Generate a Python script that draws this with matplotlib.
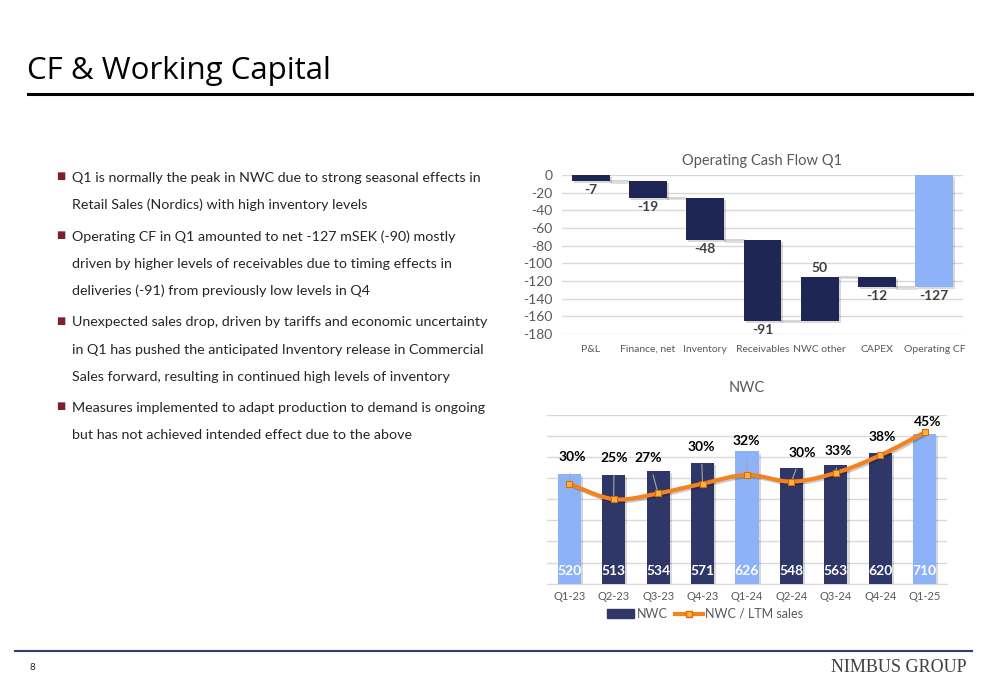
import matplotlib
matplotlib.use("Agg")
import matplotlib.pyplot as plt
import matplotlib.patheffects as pe
from matplotlib.lines import Line2D
from matplotlib.patches import Patch
import numpy as np

plt.rcParams['font.family'] = ['Lato', 'DejaVu Sans']
plt.rcParams['axes.unicode_minus'] = False

# ---- data ----
title = "CF & Working Capital"
bullets = [
    ["Q1 is normally the peak in NWC due to strong seasonal effects in",
     "Retail Sales (Nordics) with high inventory levels"],
    ["Operating CF in Q1 amounted to net -127 mSEK (-90) mostly",
     "driven by higher levels of receivables due to timing effects in",
     "deliveries (-91) from previously low levels in Q4"],
    ["Unexpected sales drop, driven by tariffs and economic uncertainty",
     "in Q1 has pushed the anticipated Inventory release in Commercial",
     "Sales forward, resulting in continued high levels of inventory"],
    ["Measures implemented to adapt production to demand is ongoing",
     "but has not achieved intended effect due to the above"],
]

cf_labels = ["P&L", "Finance, net", "Inventory", "Receivables", "NWC other", "CAPEX", "Operating CF"]
cf_steps = [-7, -19, -48, -91, 50, -12]
cf_total = -127

quarters = ["Q1-23", "Q2-23", "Q3-23", "Q4-23", "Q1-24", "Q2-24", "Q3-24", "Q4-24", "Q1-25"]
nwc = [520, 513, 534, 571, 626, 548, 563, 620, 710]
nwc_ratio = [29.6, 25.0, 26.7, 29.6, 32.2, 30.2, 32.8, 38.0, 44.8]
is_q1 = [True, False, False, False, True, False, False, False, True]

# label placement for the % labels (x in category units, y in %)
pct_lab_x = [0.06, 1.01, 1.78, 2.97, 3.99, 5.24, 6.06, 7.04, 8.07]
pct_lab_y = [37.6, 37.1, 37.2, 40.4, 42.1, 38.7, 39.3, 43.4, 47.9]

NAVY = "#1E2655"
NAVY2 = "#2F3768"
LIGHT = "#8EB2F7"
ORANGE = "#F4821F"
GRAY = "#595959"
GRID = "#D9D9D9"

shadow = [pe.SimplePatchShadow(offset=(1.5, -1.5), shadow_rgbFace="#000000", alpha=0.15), pe.Normal()]


def smooth(xs, ys, n=30):
    # bezier through points, like office "smoothed line"
    xs = np.asarray(xs, float)
    ys = np.asarray(ys, float)
    px, py = [], []
    for i in range(len(xs) - 1):
        i0 = max(i - 1, 0)
        i3 = min(i + 2, len(xs) - 1)
        c1x = xs[i] + (xs[i + 1] - xs[i0]) / 6
        c1y = ys[i] + (ys[i + 1] - ys[i0]) / 6
        c2x = xs[i + 1] - (xs[i3] - xs[i]) / 6
        c2y = ys[i + 1] - (ys[i3] - ys[i]) / 6
        t = np.linspace(0, 1, n)
        px.extend((1 - t) ** 3 * xs[i] + 3 * (1 - t) ** 2 * t * c1x + 3 * (1 - t) * t ** 2 * c2x + t ** 3 * xs[i + 1])
        py.extend((1 - t) ** 3 * ys[i] + 3 * (1 - t) ** 2 * t * c1y + 3 * (1 - t) * t ** 2 * c2y + t ** 3 * ys[i + 1])
    return px, py


fig = plt.figure(figsize=(10, 6.85), dpi=100)

# ---- slide frame ----
fig.text(0.027, 1 - 71 / 685, title, fontsize=22.5, color="black", va="center", ha="left",
         family=["Open Sans", "DejaVu Sans"])
fig.add_artist(Line2D([0.028, 0.972], [1 - 94 / 685] * 2, color="black", lw=2.2))
fig.add_artist(Line2D([0.015, 0.972], [1 - 651 / 685] * 2, color="#2F3E6E", lw=1.5))
fig.text(0.030, 1 - 668 / 685, "8", fontsize=7, color="#262626", va="center")
fig.text(0.967, 1 - 668 / 685, "NIMBUS GROUP", fontsize=13, color="#404040", va="center", ha="right",
         family=["Liberation Serif", "DejaVu Serif"])

y = 178
for b in bullets:
    fig.text(0.0565, 1 - (y - 2) / 685, "\u25A0", fontsize=7, color="#7F1F2E", va="center", ha="left",
             family=["DejaVu Sans"])
    for line in b:
        fig.text(0.072, 1 - y / 685, line, fontsize=10.3, color="#262626", va="center", ha="left")
        y += 27.1
    y += 4.5

# ---- waterfall ----
ax1 = fig.add_axes([0.562, 1 - 334 / 685, 0.401, (334 - 175) / 685])
x = np.arange(len(cf_labels))
w = 0.66
level = 0
tops, bottoms = [], []
for v in cf_steps:
    tops.append(max(level, level + v))
    bottoms.append(min(level, level + v))
    level += v
ends = np.cumsum(cf_steps)
for i, v in enumerate(cf_steps):
    ax1.bar(x[i], tops[i] - bottoms[i], bottom=bottoms[i], width=w, color=NAVY, zorder=3,
            path_effects=shadow)
ax1.bar(x[-1], cf_total, width=w, color=LIGHT, zorder=3, path_effects=shadow)
for i in range(len(cf_steps)):
    ax1.plot([x[i] + w / 2, x[i + 1] - w / 2], [ends[i], ends[i]], color="#D0D0D0", lw=1.2, zorder=2,
             path_effects=[pe.SimpleLineShadow(offset=(1, -1), alpha=0.15), pe.Normal()])
for i, v in enumerate(cf_steps):
    if v < 0:
        ax1.annotate(str(v), (x[i], bottoms[i]), xytext=(0, -2), textcoords="offset points",
                     ha="center", va="top", fontsize=10, fontweight="bold", color="#404040")
    else:
        ax1.annotate(str(v), (x[i], tops[i]), xytext=(0, 2), textcoords="offset points",
                     ha="center", va="bottom", fontsize=10, fontweight="bold", color="#404040")
ax1.annotate(str(cf_total), (x[-1], cf_total), xytext=(0, -2), textcoords="offset points",
             ha="center", va="top", fontsize=10, fontweight="bold", color="#404040")
ax1.set_ylim(-180, 0)
ax1.set_xlim(-0.5, len(cf_labels) - 0.5)
ax1.set_yticks(range(-180, 1, 20))
ax1.yaxis.grid(True, color=GRID, lw=1)
ax1.set_axisbelow(True)
ax1.set_xticks(x)
ax1.set_xticklabels(cf_labels, fontsize=7.5, color=GRAY)
ax1.tick_params(axis="y", labelsize=10, labelcolor=GRAY, length=0, pad=7)
ax1.tick_params(axis="x", length=0, pad=8)
for s in ax1.spines.values():
    s.set_visible(False)
ax1.set_title("Operating Cash Flow Q1", fontsize=10.5, color=GRAY, pad=7)

# ---- NWC ----
ax2 = fig.add_axes([0.547, 1 - 583.7 / 685, 0.400, (583.7 - 414.7) / 685])
qx = np.arange(len(quarters))
cols = [LIGHT if q else NAVY2 for q in is_q1]
ax2.bar(qx, nwc, width=0.52, color=cols, zorder=3, path_effects=shadow)
for i, v in enumerate(nwc):
    ax2.text(qx[i], 60, str(v), ha="center", va="center", fontsize=10, fontweight="bold",
             color="white", zorder=5)
ax2.set_ylim(0, 800)
ax2.set_xlim(-0.5, len(quarters) - 0.5)
ax2.set_yticks(range(0, 801, 100))
ax2.yaxis.grid(True, color=GRID, lw=1)
ax2.set_axisbelow(True)
ax2.set_yticklabels([])
ax2.set_xticks(qx)
ax2.set_xticklabels(quarters, fontsize=8, color=GRAY)
ax2.tick_params(axis="y", length=0)
ax2.tick_params(axis="x", length=0, pad=5)
for s in ax2.spines.values():
    s.set_visible(False)
ax2.spines["bottom"].set_visible(True)
ax2.spines["bottom"].set_color(GRID)
ax2.set_title("NWC", fontsize=10.5, color=GRAY, pad=16)

ax3 = ax2.twinx()
ax3.set_ylim(0, 50)
ax3.set_yticks([])
for s in ax3.spines.values():
    s.set_visible(False)
sx, sy = smooth(qx, nwc_ratio)
ax3.plot(sx, sy, color=ORANGE, lw=3, zorder=4, solid_capstyle="round",
         path_effects=[pe.SimpleLineShadow(offset=(1.2, -1.2), alpha=0.2), pe.Normal()])
ax3.plot(qx, nwc_ratio, ls="none", marker="s", ms=5, mfc="#FFB347", mec="#D96C00", mew=0.8, zorder=5)
for i, v in enumerate(nwc_ratio):
    ax3.annotate(f"{round(v)}%", (qx[i], v), xytext=(pct_lab_x[i], pct_lab_y[i]), textcoords="data",
                 ha="center", va="center", fontsize=10, fontweight="bold", color="black",
                 arrowprops=dict(arrowstyle="-", color="#A6A6A6", lw=0.8, shrinkA=6, shrinkB=2),
                 annotation_clip=False)

handles = [Patch(facecolor=NAVY2, edgecolor=NAVY2),
           Line2D([0], [0], color=ORANGE, lw=3, marker="s", ms=5, mfc="#FFB347", mec="#D96C00")]
fig.legend(handles, ["NWC", "NWC / LTM sales"], loc="center", bbox_to_anchor=(0.705, 1 - 614 / 685),
           ncol=2, frameon=False, fontsize=9, labelcolor=GRAY, handlelength=2.2, columnspacing=0.6,
           handletextpad=0.2)

fig.savefig("out.png", dpi=100)
